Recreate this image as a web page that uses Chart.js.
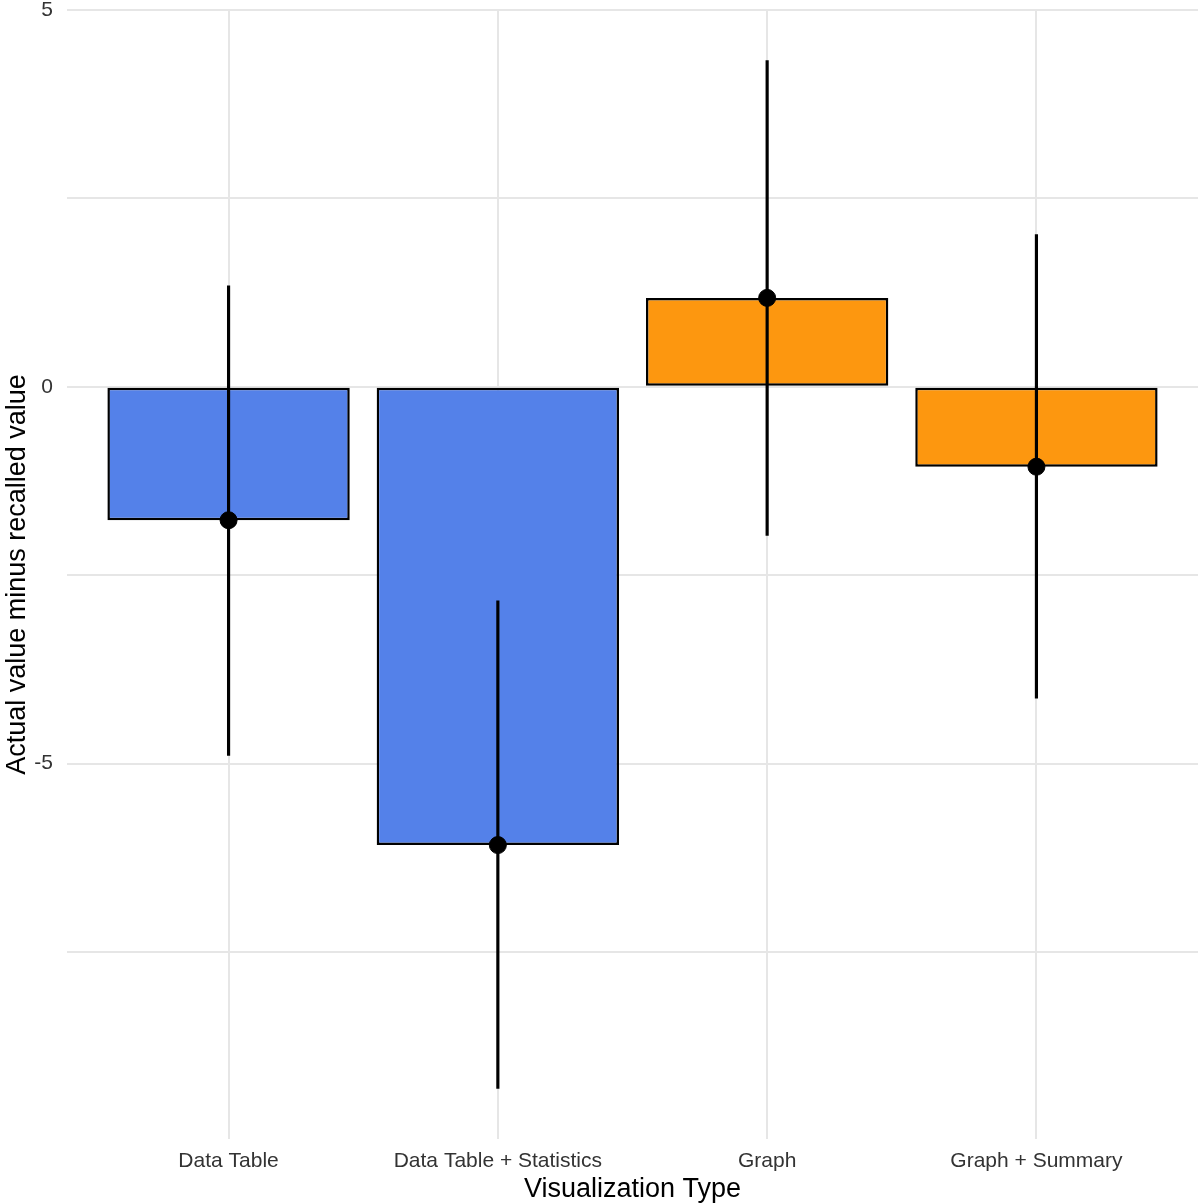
<!DOCTYPE html>
<html>
<head>
<meta charset="utf-8">
<script src="https://cdn.jsdelivr.net/npm/chart.js@4"></script>
<style>
  html, body { margin: 0; padding: 0; background: #fff; }
  #wrap { width: 1200px; height: 1204px; }
</style>
</head>
<body>
<div id="wrap"><canvas id="chart"></canvas></div>
<script>
const categories = ['Data Table', 'Data Table + Statistics', 'Graph', 'Graph + Summary'];
const meanValues = [-1.77, -6.08, 1.18, -1.06];
const upperValues = [1.34, -2.84, 4.33, 2.02];
const lowerValues = [-4.89, -9.31, -1.97, -4.13];
const barColors = ['#5481e9', '#5481e9', '#fd970f', '#fd970f'];
const yTicks = [-7.5, -5, -2.5, 0, 2.5, 5];

const positions = categories.map((c, i) => i + 1);

const ctx = document.getElementById('chart').getContext('2d');
Chart.defaults.font.family = '"Liberation Sans", Arial, sans-serif';

new Chart(ctx, {
    type: 'bar',
    data: {
        datasets: [{
            label: 'mean',
            data: positions.map((x, i) => ({ x: x, y: meanValues[i] })),
            backgroundColor: barColors,
            borderColor: '#000',
            borderWidth: 2.5,
            borderSkipped: false,
            grouped: false,
            categoryPercentage: 1,
            barPercentage: 0.9,
            order: 3
        }, {
            label: 'error',
            data: positions.map((x, i) => ({ x: x, y: [lowerValues[i], upperValues[i]] })),
            backgroundColor: '#000',
            borderWidth: 0,
            grouped: false,
            barThickness: 2.5,
            order: 2
        }, {
            type: 'scatter',
            label: 'point',
            data: positions.map((x, i) => ({ x: x, y: meanValues[i] })),
            backgroundColor: '#000',
            borderColor: '#000',
            pointRadius: 8.5,
            order: 1
        }]
    },
    options: {
        responsive: true,
        maintainAspectRatio: false,
        animation: false,
        layout: { autoPadding: false, padding: { top: 10, right: 2, bottom: 0, left: 0 } },
        plugins: {
            legend: { display: false },
            tooltip: { enabled: false }
        },
        scales: {
            x: {
                type: 'linear',
                min: 0.4,
                max: 4.6,
                offset: false,
                afterBuildTicks: scale => {
                    scale.ticks = positions.map(v => ({ value: v }));
                },
                afterFit: scale => {
                    scale.height = 65;
                    scale.paddingLeft = 0;
                    scale.paddingRight = 0;
                },
                border: { display: false },
                grid: { color: '#e6e6e6', lineWidth: 2, drawTicks: false, offset: false },
                ticks: {
                    padding: 10,
                    color: '#333',
                    font: { size: 21 },
                    maxRotation: 0,
                    callback: value => categories[value - 1] || ''
                },
                title: {
                    display: true,
                    text: 'Visualization Type',
                    color: '#000',
                    font: { size: 27 },
                    padding: { top: 0, bottom: -2 }
                }
            },
            y: {
                min: -9.98,
                max: 5,
                afterBuildTicks: scale => {
                    scale.ticks = yTicks.map(v => ({ value: v }));
                },
                afterFit: scale => {
                    scale.width = 67;
                    scale.paddingTop = 0;
                    scale.paddingBottom = 0;
                },
                border: { display: false },
                grid: { color: '#e6e6e6', lineWidth: 2, drawTicks: false },
                ticks: {
                    padding: 14,
                    color: '#333',
                    font: { size: 21 },
                    callback: value => (value % 5 === 0 ? String(value) : '')
                },
                title: {
                    display: true,
                    text: 'Actual value minus recalled value',
                    color: '#000',
                    font: { size: 27 },
                    padding: { top: 1, bottom: 0 }
                }
            }
        }
    }
});
</script>
</body>
</html>
